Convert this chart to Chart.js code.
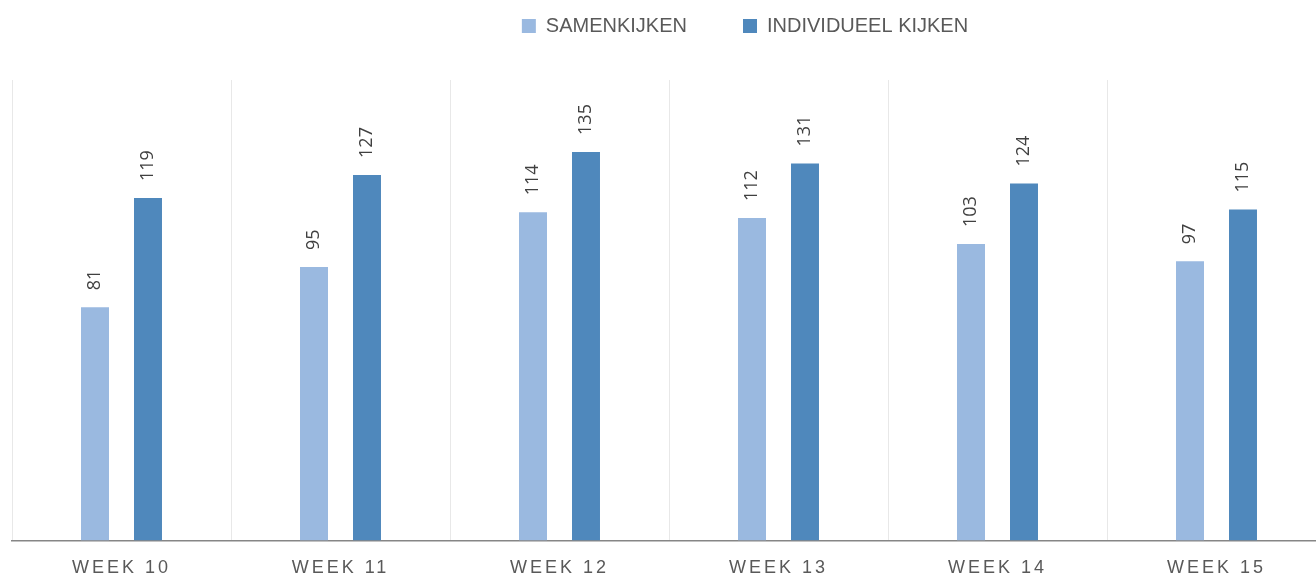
<!DOCTYPE html>
<html>
<head>
<meta charset="utf-8">
<script src="https://cdn.jsdelivr.net/npm/chart.js@4/dist/chart.umd.min.js"></script>
<style>
  html, body { margin: 0; padding: 0; background: #fff; overflow: hidden; }
  #wrap { width: 1478px; height: 578px; position: relative; }
</style>
</head>
<body>
<div id="wrap"><canvas id="weekChart"></canvas></div>
<script>
const WEEKS = ["WEEK 10", "WEEK 11", "WEEK 12", "WEEK 13", "WEEK 14", "WEEK 15"];
const SAMEN = [81, 95, 114, 112, 103, 97];
const INDIVIDUEEL = [119, 127, 135, 131, 124, 115];
const Y_MAX = 160;

const LIGHT = "#9ab9e0";
const DARK = "#4f88bc";
const TEXT = "#595959";

Chart.defaults.font.family = "'Liberation Sans', Arial, sans-serif";

// value labels, rotated, above each bar
const barLabels = {
    id: "barLabels",
    afterDatasetsDraw(chart) {
        const ctx = chart.ctx;
        ctx.save();
        ctx.fillStyle = "#404040";
        ctx.font = "18px 'Open Sans', sans-serif";
        ctx.textAlign = "left";
        ctx.textBaseline = "middle";
        chart.data.datasets.forEach((ds, di) => {
            chart.getDatasetMeta(di).data.forEach((bar, i) => {
                ctx.save();
                ctx.translate(bar.x, bar.y - 17);
                ctx.rotate(-Math.PI / 2);
                ctx.fillText(String(ds.data[i]), 0, 0);
                ctx.restore();
            });
        });
        ctx.restore();
    },
};

// spaced-out letters on the category labels
const spacedTicks = {
    id: "spacedTicks",
    beforeDraw(chart) {
        const s = chart.scales.x;
        if (!s || s._spaced) return;
        const orig = s.drawLabels;
        s.drawLabels = function (area) {
            this.ctx.save();
            this.ctx.letterSpacing = "3px";
            orig.call(this, area);
            this.ctx.restore();
        };
        s._spaced = true;
    },
};

const chart = new Chart(document.getElementById("weekChart"), {
    type: "bar",
    data: {
        labels: WEEKS,
        datasets: [
            {
                label: "SAMENKIJKEN",
                data: SAMEN,
                backgroundColor: LIGHT,
                categoryPercentage: 0.484,
                barPercentage: 0.528,
            },
            {
                label: "INDIVIDUEEL KIJKEN",
                data: INDIVIDUEEL,
                backgroundColor: DARK,
                categoryPercentage: 0.484,
                barPercentage: 0.528,
            },
        ],
    },
    options: {
        responsive: true,
        maintainAspectRatio: false,
        animation: false,
        layout: {
            padding: { left: 12, right: 0, top: -40, bottom: -18 },
        },
        scales: {
            x: {
                grid: {
                    display: true,
                    color: "#e8e8e8",
                    lineWidth: 1,
                    drawTicks: false,
                    offset: true,
                },
                border: { display: true, color: "#868686", width: 1.5 },
                ticks: {
                    color: TEXT,
                    font: { size: 18 },
                    padding: 17,
                    maxRotation: 0,
                    autoSkip: false,
                },
            },
            y: {
                position: "right",
                min: 0,
                max: Y_MAX,
                grid: { display: false },
                border: { display: false },
                ticks: { display: false },
                afterFit(scale) {
                    scale.width = 152;
                },
            },
        },
        plugins: {
            tooltip: { enabled: false },
            legend: {
                position: "top",
                labels: {
                    color: TEXT,
                    font: { size: 20 },
                    boxWidth: 14,
                    boxHeight: 14,
                    padding: 56,
                },
            },
            // empty title used as a spacer between legend and plot
            title: {
                display: true,
                text: "",
                weight: 500,
                font: { size: 10, lineHeight: 1 },
                padding: { top: 0, bottom: 24 },
            },
        },
    },
    plugins: [barLabels, spacedTicks],
});
</script>
</body>
</html>
